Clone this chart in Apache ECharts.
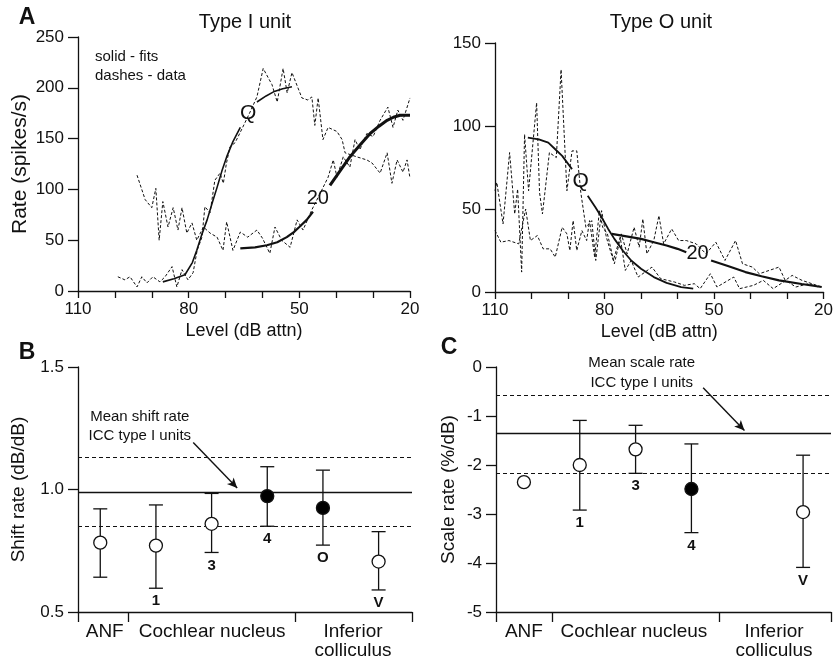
<!DOCTYPE html>
<html><head><meta charset="utf-8">
<script src="https://cdn.jsdelivr.net/npm/echarts@6/dist/echarts.min.js"></script>
<style>html,body{margin:0;padding:0;background:#fff}#c{width:836px;height:660px}</style>
</head><body><div id="c"></div><script>
// ---------- Panel A: Type I unit ----------
var typeI_Qdata_x = [99.2,97.3,95.9,94,92.7,91.3,89.7,87.8,86.4,84.5,83.2,81.8,80.2,78.8,77.7,76.4,75.6,74.2,72.9,71.5,70.6,69.8,68.8,67.4,65.5,63.5,61.5,59.8,57.4,56,54.4,53.3,52,49.3,47.7,46.6,45.8,44.9,43.6,42.2,39.8,38.4,37.6,34.4,31.7,30.3,28.1,26.2,24.9,23.5,21.9,20.8,20];
var typeI_Qdata_y = [14,11,14,4,14,8,14,9,14,24,4,21,11,18,40,53,83,77,109,116,106,125,142,146,160,175,191,219,203,186,219,195,215,190,188,191,163,190,149,161,157,149,136,132,129,126,116,136,106,129,117,129,111];
var typeI_20data_x = [94,91.8,90,88.9,88,87,85.6,84.2,82.9,81.8,80.5,79.1,77.8,76,74.2,72.3,70.7,69.7,68,66,64,61.5,60,58,56.6,54.8,52.5,50.6,49,46.6,44.5,42.2,40.8,39.8,38.1,36.3,34.9,33.6,31.7,30,28.1,26,24.6,23.3,21.9,20];
var typeI_20data_y = [114,90,82,101,50,88,63,82,60,82,57,67,50,63,57,53,40,68,40,58,53,60,52,37,63,50,43,70,60,80,95,112,129,112,132,122,149,139,155,152,168,181,161,178,168,190];
var typeI_Qfit_x = [87,84,81,79,77.8,76.5,75,73.5,72.3,71,69.7,68,66,null,61.5,59,57,54.5,52];
var typeI_Qfit_y = [9,12,16,28,40,55,70,88,102,118,132,147,161,null,186,192,196,199,201];
var typeI_20fitA_x = [66,62,58.8,56,53.4,51.5,50,48,46.3];
var typeI_20fitA_y = [42,43,45,48,53,58,63,70,78];
var typeI_20fitB_x = [41.7,39,36.3,33.5,30.8,28.5,26.2,24.5,22.7,20];
var typeI_20fitB_y = [104,118,132,144,155,162,168,171,173,173];

// ---------- Panel A: Type O unit ----------
var typeO_Qdata_x = [110,109.5,107.8,106,104.6,103.8,102.7,101.9,100.8,98.6,97.8,97,95.1,93.2,91.9,90.3,88.9,87.6,86.5,85.1,83.5,82.4,80.8,79.5,77.6,75.7,74.3,72.7,70.8,67,64.6,60.8,58.1,55.4,53.8,51,49.2,44.6,43,39.2,36.5,33.8,30.3,27.6,24.1,21.4];
var typeO_Qdata_y = [61,66,41,84,47,62,12,95,61,114,60,47,84,81,134,61,85,85,60,39,43,19,49,33,19,33,13,19,9,15,8,6,4,5,2,11,3,9,2,4,7,2,7,3,5,3];
var typeO_20data_x = [110,108.4,106.2,103.5,101.6,100.3,98.4,96.8,94.9,93.5,91.6,90.3,89.5,88.6,87.6,86.2,84.9,84.1,82.7,81.4,80.5,79.2,77.3,75.4,73.8,71.9,70.5,69.5,68.4,66.5,65.1,63.8,61.6,59.7,57.6,54.9,52.2,49.5,47,44.1,42.2,39.5,37.6,34.9,32.2,30.5,28.6,25.9,23.2,20.5];
var typeO_20data_y = [37,30,31,29,50,31,34,26,26,21,39,35,25,43,25,37,31,43,21,49,39,35,17,35,23,39,27,44,23,31,46,29,38,31,31,29,23,30,19,31,17,15,11,13,15,7,10,7,5,3];
var typeO_Qfit_x = [101,98,95.4,93.5,91.6,88.9,null,84.6,82.5,80.8,79,77.3,75,72.7,70,66.5,63,59,55.7];
var typeO_Qfit_y = [93,92,90,86,82,74,null,58,51,45,38,32,25,19,14,9,5.5,3,2];
var typeO_20fit_x = [78,74,70,66.5,63,60,57.6,null,50.8,46,41.4,37,32.2,26,20.5];
var typeO_20fit_y = [35,33.5,32,30,28,26,24,null,19,15.5,12,9.5,7,4.8,3];

// ---------- Panel B: shift rate ----------
var B_pos = [0.4,1.4,2.4,3.4,4.4,5.4];
var B_val = [0.783,0.771,0.86,0.973,0.925,0.706];
var B_low = [0.642,0.597,0.743,0.85,0.773,0.59];
var B_high = [0.921,0.937,0.984,1.093,1.079,0.828];
var B_filled = [false,false,false,true,true,false];
var B_tags = ['','1','3','4','O','V'];
var B_mean = 0.99, B_sdHigh = 1.132, B_sdLow = 0.852;

// ---------- Panel C: scale rate ----------
var C_pos = [0.5,1.5,2.5,3.5,5.5];
var C_val = [-2.35,-2.0,-1.68,-2.49,-2.96];
var C_low = [null,-2.92,-2.17,-3.38,-4.09];
var C_high = [null,-1.09,-1.19,-1.57,-1.8];
var C_filled = [false,false,false,true,false];
var C_tags = ['','1','3','4','V'];
var C_mean = -1.36, C_sdHigh = -0.58, C_sdLow = -2.17;

var groupLabels = ['ANF','Cochlear nucleus','Inferior\ncolliculus'];
var B_groupPos = [0.48,2.41,4.94], B_groupTicks = [0,0.9,3.9,6];
var C_groupPos = [0.5,2.47,4.98], C_groupTicks = [0,1,4,6];

var FONT = 'Liberation Sans, Arial, Helvetica, sans-serif';
function zip(xs, ys){ return xs.map(function(x,i){ return x===null ? [null,null] : [x, ys[i]]; }); }

var chart = echarts.init(document.getElementById('c'), null, {renderer:'canvas'});

function lineS(xi, xs, ys, width, dashed){
  return {type:'line', xAxisIndex:xi, yAxisIndex:xi, data:zip(xs,ys), showSymbol:false, symbol:'none',
    connectNulls:false, silent:true, animation:false,
    lineStyle:{color:'#111', width:width, type: dashed ? [3,2] : 'solid'}, z:3};
}
function scatterS(xi, pos, val, filled){
  return {type:'scatter', xAxisIndex:xi, yAxisIndex:xi, symbol:'circle', symbolSize:13, animation:false, silent:true, z:6,
    data: pos.map(function(p,i){ return {value:[p,val[i]], itemStyle:{color: filled[i] ? '#000' : '#fff', borderColor:'#111', borderWidth:1.3, opacity:1}}; })};
}
function errS(xi, pos, low, high, tags, refs){
  var d = [];
  pos.forEach(function(p,i){ if (low[i] !== null) d.push([p, low[i], high[i], tags[i]]); });
  return {type:'custom', xAxisIndex:xi, yAxisIndex:xi, animation:false, silent:true, z:4,
    data:d,
    renderItem:function(params, api){
      var x = api.value(0);
      var lo = api.coord([x, api.value(1)]), hi = api.coord([x, api.value(2)]);
      var tag = d[params.dataIndex][3];
      var cw = 7, st = {stroke:'#111', lineWidth:1.3};
      return {type:'group', children:[
        {type:'line', shape:{x1:lo[0],y1:lo[1],x2:hi[0],y2:hi[1]}, style:st},
        {type:'line', shape:{x1:lo[0]-cw,y1:lo[1],x2:lo[0]+cw,y2:lo[1]}, style:st},
        {type:'line', shape:{x1:hi[0]-cw,y1:hi[1],x2:hi[0]+cw,y2:hi[1]}, style:st},
        {type:'text', style:{text:tag, x:lo[0], y:lo[1]+13, align:'center', verticalAlign:'middle', font:'bold 15px '+FONT, fill:'#111'}}
      ]};
    },
    markLine:{silent:true, symbol:'none', animation:false, label:{show:false},
      data:[
        {yAxis:refs[0], lineStyle:{type:'solid', color:'#111', width:1.3}},
        {yAxis:refs[1], lineStyle:{type:[4,3], color:'#111', width:1.1}},
        {yAxis:refs[2], lineStyle:{type:[4,3], color:'#111', width:1.1}}
      ]}
  };
}
function arrowS(xi, from, to){
  return {type:'line', xAxisIndex:xi, yAxisIndex:xi, data:[], silent:true, animation:false,
    markLine:{silent:true, animation:false, symbol:['none','arrow'], symbolSize:[7,10], label:{show:false},
      lineStyle:{type:'solid', color:'#111', width:1.4},
      data:[[{coord:from},{coord:to}]]}};
}

var AX = {color:'#111', width:1.3};
function yAx(gi, min, max, interval, name, nameGap, nameSize, fmt){
  return {type:'value', gridIndex:gi, min:min, max:max, interval:interval, name:name, nameLocation:'middle', nameGap:nameGap,
    nameTextStyle:{fontFamily:FONT, fontSize:nameSize, color:'#111'},
    axisLine:{show:true, onZero:false, lineStyle:AX}, axisTick:{show:true, length:10, lineStyle:AX},
    axisLabel:{fontFamily:FONT, fontSize:17, color:'#111', margin:14, formatter:fmt}, splitLine:{show:false}};
}
function xLevel(gi){
  var labelled = [110,80,50,20];
  return {type:'value', gridIndex:gi, min:20, max:110, interval:10, inverse:true, name:'Level (dB attn)', nameLocation:'middle', nameGap:31,
    nameTextStyle:{fontFamily:FONT, fontSize:18, color:'#111'},
    axisLine:{show:true, onZero:false, lineStyle:AX}, axisTick:{show:true, length:7, lineStyle:AX},
    axisLabel:{fontFamily:FONT, fontSize:17, color:'#111', margin:10, showMinLabel:true, showMaxLabel:true,
      formatter:function(v){ return labelled.indexOf(v) >= 0 ? String(v) : ''; }}, splitLine:{show:false}};
}
function xGroup(gi, pos, ticks){
  return {type:'value', gridIndex:gi, min:0, max:6,
    axisLine:{show:true, onZero:false, lineStyle:AX},
    axisTick:{show:true, length:10, customValues:ticks, lineStyle:AX},
    axisLabel:{fontFamily:FONT, fontSize:19, color:'#111', margin:10, lineHeight:19, verticalAlign:'top', customValues:pos,
      formatter:function(v){ var i = pos.indexOf(v); return i >= 0 ? groupLabels[i] : ''; }},
    splitLine:{show:false}};
}

var option = {
  animation:false,
  backgroundColor:'#fff',
  textStyle:{fontFamily:FONT},
  grid:[
    {left:78, top:37, width:332, height:254},
    {left:495, top:43, width:333, height:249},
    {left:78, top:367, width:334, height:247},
    {left:496, top:367, width:335, height:247}
  ],
  xAxis:[ xLevel(0), xLevel(1), xGroup(2, B_groupPos, B_groupTicks), xGroup(3, C_groupPos, C_groupTicks) ],
  yAxis:[
    yAx(0, 0, 250, 50, 'Rate (spikes/s)', 47, 21, null),
    yAx(1, 0, 150, 50, '', 40, 18, null),
    yAx(2, 0.5, 1.5, 0.5, 'Shift rate (dB/dB)', 50, 19, function(v){ return v.toFixed(1); }),
    yAx(3, -5, 0, 1, 'Scale rate (%/dB)', 38, 19, null)
  ],
  series:[
    lineS(0, typeI_Qdata_x, typeI_Qdata_y, 1, true),
    lineS(0, typeI_20data_x, typeI_20data_y, 1, true),
    lineS(0, typeI_Qfit_x, typeI_Qfit_y, 1.6, false),
    lineS(0, typeI_20fitA_x, typeI_20fitA_y, 2.2, false),
    lineS(0, typeI_20fitB_x, typeI_20fitB_y, 3, false),
    lineS(1, typeO_Qdata_x, typeO_Qdata_y, 1, true),
    lineS(1, typeO_20data_x, typeO_20data_y, 1, true),
    lineS(1, typeO_Qfit_x, typeO_Qfit_y, 1.8, false),
    lineS(1, typeO_20fit_x, typeO_20fit_y, 2.2, false),
    errS(2, B_pos, B_low, B_high, B_tags, [B_mean, B_sdHigh, B_sdLow]),
    scatterS(2, B_pos, B_val, B_filled),
    arrowS(2, [2.07,1.192], [2.86,1.006]),
    errS(3, C_pos, C_low, C_high, C_tags, [C_mean, C_sdHigh, C_sdLow]),
    scatterS(3, C_pos, C_val, C_filled),
    arrowS(3, [3.71,-0.425], [4.45,-1.296])
  ]
};
chart.setOption(option);

function txt(x, y, s, font, align){
  return {type:'text', x:x, y:y, silent:true, style:{text:s, font:font, fill:'#111', align:align||'center', verticalAlign:'middle'}};
}
function at(gi, pt){ return chart.convertToPixel({gridIndex:gi}, pt); }
var qI = at(0,[63.9,175]), tI = at(0,[45,91]), qO = at(1,[86.5,67]), tO = at(1,[54.5,23]);
var annB = at(2,[1.11,1.298]), annB2 = at(2,[1.11,1.217]);
var annC = at(3,[2.61,0.08]), annC2 = at(3,[2.61,-0.33]);
chart.setOption({graphic:[
  txt(27,18,'A','bold 23px '+FONT),
  txt(27,353,'B','bold 23px '+FONT),
  txt(449,348,'C','bold 23px '+FONT),
  txt(245,22,'Type I unit','20px '+FONT),
  txt(661,22,'Type O unit','20px '+FONT),
  txt(95,57,'solid - fits','15px '+FONT,'left'),
  txt(95,76,'dashes - data','15px '+FONT,'left'),
  txt(qI[0],qI[1],'Q','21px '+FONT),
  txt(tI[0],tI[1],'20','20px '+FONT),
  txt(qO[0],qO[1],'Q','21px '+FONT),
  txt(tO[0],tO[1],'20','20px '+FONT),
  txt(annB[0],annB[1],'Mean shift rate','15px '+FONT),
  txt(annB2[0],annB2[1],'ICC type I units','15px '+FONT),
  txt(annC[0],annC[1],'Mean scale rate','15px '+FONT),
  txt(annC2[0],annC2[1],'ICC type I units','15px '+FONT)
]});
</script></body></html>
